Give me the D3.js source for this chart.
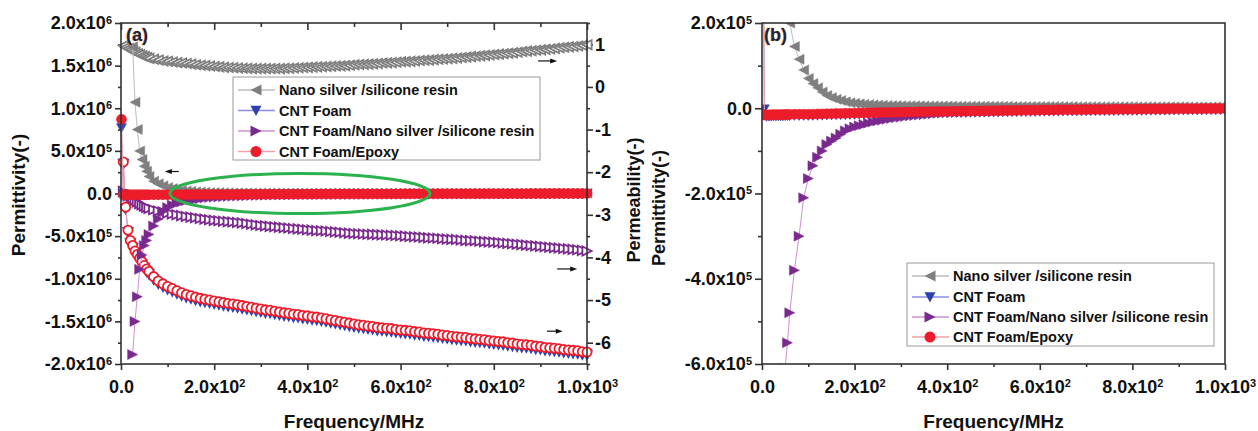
<!DOCTYPE html>
<html>
<head>
<meta charset="utf-8">
<script src="https://cdn.jsdelivr.net/npm/d3@7"></script>
<style>
  html, body { margin: 0; padding: 0; background: #fff; }
  svg text { font-family: Arial, "Liberation Sans", sans-serif; font-weight: bold; fill: #111; }
  .tick text { font-size: 18px; }
  .tick line { stroke-width: 1.6px; }
</style>
</head>
<body>
<svg id="chart" width="1258" height="431"></svg>
<script>
// frequency grid (MHz), shared by every series
const freq = [1, 5, 10, 15, 20, 25, 30, 35, 40, 45, 50, 55, 60,
  70, 80, 90, 100, 110, 120, 130, 140, 150, 160,
  170, 180, 190, 200, 210, 220, 230, 240, 250, 260,
  270, 280, 290, 300, 310, 320, 330, 340, 350, 360,
  370, 380, 390, 400, 410, 420, 430, 440, 450, 460,
  470, 480, 490, 500, 510, 520, 530, 540, 550, 560,
  570, 580, 590, 600, 610, 620, 630, 640, 650, 660,
  670, 680, 690, 700, 710, 720, 730, 740, 750, 760,
  770, 780, 790, 800, 810, 820, 830, 840, 850, 860,
  870, 880, 890, 900, 910, 920, 930, 940, 950, 960,
  970, 980, 990, 1000];

const seriesNames = ["Nano silver /silicone resin", "CNT Foam",
  "CNT Foam/Nano silver /silicone resin", "CNT Foam/Epoxy"];

// permittivity (left axis of a, axis of b)
const epsNano = [null, null, null, null, null, 1.72e6, 1.07e6, 7.5e5, 5.0e5, 4.0e5, 3.2e5, 2.6e5, 2.0e5,
  1.45e5, 1.15e5, 9.0e4, 7.0e4, 5.8e4, 4.8e4, 3.8e4, 3.0e4, 2.5e4, 2.1e4,
  1.8e4, 1.5e4, 1.3e4, 1.15e4, 1.05e4, 9.5e3, 8.7e3, 8e3, 7.5e3, 7e3,
  6.7e3, 6.5e3, 6.2e3, 6e3, 5.9e3, 5.8e3, 5.7e3, 5.6e3, 5.5e3, 5.4e3,
  5.3e3, 5.2e3, 5.1e3, 5e3, 5e3, 4.9e3, 4.9e3, 4.8e3, 4.8e3, 4.7e3,
  4.7e3, 4.6e3, 4.6e3, 4.5e3, 4.5e3, 4.4e3, 4.4e3, 4.3e3, 4.3e3, 4.2e3,
  4.2e3, 4.1e3, 4.1e3, 4e3, 4e3, 4e3, 4e3, 3.9e3, 3.9e3, 3.9e3,
  3.9e3, 3.8e3, 3.8e3, 3.8e3, 3.8e3, 3.7e3, 3.7e3, 3.7e3, 3.7e3, 3.6e3,
  3.6e3, 3.6e3, 3.6e3, 3.5e3, 3.5e3, 3.5e3, 3.5e3, 3.4e3, 3.4e3, 3.4e3,
  3.4e3, 3.3e3, 3.3e3, 3.3e3, 3.3e3, 3.2e3, 3.2e3, 3.2e3, 3.2e3, 3.1e3,
  3.1e3, 3.1e3, 3e3, 3e3];
const epsCNT = [7.7e5, -2e3, -1.9e4, -1.85e4, -1.85e4, -1.8e4, -1.8e4, -1.8e4, -1.8e4, -1.8e4, -1.75e4, -1.75e4, -1.75e4,
  -1.7e4, -1.7e4, -1.7e4, -1.7e4, -1.68e4, -1.65e4, -1.62e4, -1.6e4, -1.58e4, -1.55e4,
  -1.52e4, -1.5e4, -1.48e4, -1.45e4, -1.42e4, -1.4e4, -1.38e4, -1.35e4, -1.32e4, -1.3e4,
  -1.28e4, -1.26e4, -1.24e4, -1.22e4, -1.2e4, -1.18e4, -1.16e4, -1.14e4, -1.12e4, -1.1e4,
  -1.08e4, -1.07e4, -1.05e4, -1.04e4, -1.02e4, -1e4, -9.8e3, -9.7e3, -9.5e3, -9.4e3,
  -9.2e3, -9.1e3, -8.9e3, -8.8e3, -8.6e3, -8.5e3, -8.3e3, -8.2e3, -8e3, -7.9e3,
  -7.7e3, -7.6e3, -7.4e3, -7.3e3, -7.1e3, -7e3, -6.9e3, -6.8e3, -6.7e3, -6.6e3,
  -6.5e3, -6.4e3, -6.3e3, -6.2e3, -6.1e3, -6e3, -5.9e3, -5.8e3, -5.7e3, -5.6e3,
  -5.5e3, -5.4e3, -5.3e3, -5.2e3, -5.1e3, -5e3, -4.9e3, -4.8e3, -4.7e3, -4.6e3,
  -4.5e3, -4.4e3, -4.3e3, -4.2e3, -4.1e3, -4e3, -3.95e3, -3.9e3, -3.85e3, -3.8e3,
  -3.75e3, -3.7e3, -3.65e3, -3.6e3];
const epsCFAg = [null, null, null, null, null, -1.89e6, -1.5e6, -1.21e6, -8.9e5, -7.2e5, -6.1e5, -5.5e5, -4.8e5,
  -3.8e5, -3.0e5, -2.1e5, -1.65e5, -1.35e5, -1.15e5, -1.0e5, -8.5e4, -7.7e4, -7.0e4,
  -6.1e4, -5.3e4, -4.8e4, -4.4e4, -4.1e4, -3.8e4, -3.5e4, -3.2e4, -3.0e4, -2.8e4,
  -2.6e4, -2.4e4, -2.25e4, -2.1e4, -1.95e4, -1.8e4, -1.7e4, -1.6e4, -1.5e4, -1.4e4,
  -1.3e4, -1.2e4, -1.1e4, -1.0e4, -9.8e3, -9.5e3, -9.2e3, -9e3, -8.8e3, -8.5e3,
  -8.2e3, -8e3, -7.8e3, -7.5e3, -7.2e3, -7e3, -6.8e3, -6.5e3, -6.2e3, -6e3,
  -5.8e3, -5.5e3, -5.2e3, -5e3, -4.8e3, -4.6e3, -4.4e3, -4.2e3, -4e3, -3.8e3,
  -3.6e3, -3.5e3, -3.4e3, -3.2e3, -3.1e3, -3e3, -2.95e3, -2.9e3, -2.85e3, -2.8e3,
  -2.75e3, -2.7e3, -2.65e3, -2.6e3, -2.55e3, -2.5e3, -2.45e3, -2.4e3, -2.35e3, -2.3e3,
  -2.25e3, -2.2e3, -2.15e3, -2.1e3, -2.05e3, -2e3, -2e3, -2e3, -2e3, -2e3,
  -2e3, -2e3, -2e3, -2e3];
const epsEpoxy = [8.7e5, -1.6e4, -1.6e4, -1.55e4, -1.55e4, -1.5e4, -1.5e4, -1.5e4, -1.5e4, -1.5e4, -1.45e4, -1.45e4, -1.45e4,
  -1.4e4, -1.4e4, -1.4e4, -1.4e4, -1.38e4, -1.35e4, -1.32e4, -1.3e4, -1.28e4, -1.25e4,
  -1.22e4, -1.2e4, -1.18e4, -1.15e4, -1.12e4, -1.1e4, -1.08e4, -1.05e4, -1.02e4, -1.0e4,
  -9.8e3, -9.6e3, -9.4e3, -9.2e3, -9e3, -8.8e3, -8.6e3, -8.4e3, -8.2e3, -8e3,
  -7.8e3, -7.7e3, -7.5e3, -7.4e3, -7.2e3, -7e3, -6.8e3, -6.7e3, -6.5e3, -6.4e3,
  -6.2e3, -6.1e3, -5.9e3, -5.8e3, -5.6e3, -5.5e3, -5.3e3, -5.2e3, -5e3, -4.9e3,
  -4.7e3, -4.6e3, -4.4e3, -4.3e3, -4.1e3, -4e3, -3.9e3, -3.8e3, -3.7e3, -3.6e3,
  -3.5e3, -3.4e3, -3.3e3, -3.2e3, -3.1e3, -3e3, -2.9e3, -2.8e3, -2.7e3, -2.6e3,
  -2.5e3, -2.4e3, -2.3e3, -2.2e3, -2.1e3, -2e3, -1.9e3, -1.8e3, -1.7e3, -1.6e3,
  -1.5e3, -1.4e3, -1.3e3, -1.2e3, -1.1e3, -1e3, -950, -900, -850, -800,
  -750, -700, -650, -600];

// permeability (right axis of panel a)
const muNano = [null, 0.97, 0.93, 0.9, 0.87, 0.84, 0.81, 0.78, 0.76, 0.73, 0.71, 0.69, 0.67,
  0.65, 0.63, 0.61, 0.6, 0.585, 0.57, 0.56, 0.55, 0.535, 0.52,
  0.51, 0.5, 0.49, 0.48, 0.47, 0.46, 0.455, 0.45, 0.445, 0.44,
  0.435, 0.43, 0.43, 0.43, 0.43, 0.43, 0.43, 0.43, 0.435, 0.44,
  0.445, 0.45, 0.455, 0.46, 0.465, 0.47, 0.475, 0.48, 0.485, 0.49,
  0.495, 0.5, 0.51, 0.52, 0.525, 0.53, 0.535, 0.54, 0.55, 0.56,
  0.565, 0.57, 0.58, 0.59, 0.595, 0.6, 0.61, 0.62, 0.625, 0.63,
  0.64, 0.65, 0.655, 0.66, 0.67, 0.68, 0.69, 0.7, 0.71, 0.72,
  0.73, 0.74, 0.75, 0.76, 0.77, 0.78, 0.79, 0.8, 0.815, 0.83,
  0.84, 0.85, 0.86, 0.87, 0.88, 0.89, 0.905, 0.92, 0.93, 0.94,
  0.95, 0.96, 0.975, 0.99];
const muCNT = [null, -1.8, -2.86, -3.4, -3.66, -3.78, -3.91, -3.99, -4.08, -4.16, -4.25, -4.33, -4.39,
  -4.51, -4.61, -4.68, -4.74, -4.79, -4.84, -4.89, -4.93, -4.96, -4.99,
  -5.02, -5.04, -5.06, -5.08, -5.1, -5.12, -5.14, -5.15, -5.17, -5.19,
  -5.21, -5.23, -5.25, -5.27, -5.29, -5.3, -5.32, -5.34, -5.36, -5.37,
  -5.39, -5.4, -5.42, -5.43, -5.45, -5.46, -5.48, -5.5, -5.52, -5.54,
  -5.56, -5.58, -5.6, -5.62, -5.64, -5.65, -5.67, -5.68, -5.7, -5.71,
  -5.72, -5.73, -5.75, -5.76, -5.77, -5.78, -5.8, -5.81, -5.83, -5.84,
  -5.85, -5.86, -5.88, -5.89, -5.91, -5.92, -5.93, -5.94, -5.96, -5.97,
  -5.98, -5.99, -6.01, -6.02, -6.03, -6.04, -6.06, -6.07, -6.09, -6.1,
  -6.11, -6.12, -6.14, -6.15, -6.17, -6.18, -6.19, -6.2, -6.22, -6.23,
  -6.24, -6.25, -6.27, -6.28];
const muCFAg = [null, -2.45, -2.5, -2.55, -2.58, -2.62, -2.66, -2.7, -2.74, -2.77, -2.8, -2.83, -2.85,
  -2.88, -2.91, -2.94, -2.96, -2.98, -3.0, -3.02, -3.04, -3.055, -3.07,
  -3.085, -3.1, -3.115, -3.13, -3.14, -3.15, -3.16, -3.17, -3.18, -3.19,
  -3.205, -3.22, -3.235, -3.25, -3.26, -3.27, -3.28, -3.29, -3.3, -3.31,
  -3.32, -3.33, -3.34, -3.35, -3.36, -3.37, -3.375, -3.38, -3.39, -3.4,
  -3.41, -3.42, -3.43, -3.44, -3.445, -3.45, -3.455, -3.46, -3.465, -3.47,
  -3.475, -3.48, -3.485, -3.49, -3.5, -3.51, -3.515, -3.52, -3.53, -3.54,
  -3.545, -3.55, -3.56, -3.57, -3.575, -3.58, -3.59, -3.6, -3.605, -3.61,
  -3.62, -3.63, -3.635, -3.64, -3.65, -3.66, -3.67, -3.68, -3.69, -3.7,
  -3.71, -3.72, -3.73, -3.74, -3.75, -3.76, -3.77, -3.78, -3.79, -3.8,
  -3.81, -3.82, -3.835, -3.85];
const muEpoxy = [null, -1.76, -2.82, -3.36, -3.6, -3.72, -3.85, -3.93, -4.02, -4.1, -4.19, -4.27, -4.33,
  -4.45, -4.55, -4.62, -4.68, -4.73, -4.78, -4.83, -4.87, -4.9, -4.93,
  -4.96, -4.98, -5.0, -5.02, -5.04, -5.06, -5.08, -5.09, -5.11, -5.13,
  -5.15, -5.17, -5.19, -5.21, -5.23, -5.24, -5.26, -5.28, -5.3, -5.31,
  -5.33, -5.34, -5.36, -5.37, -5.39, -5.4, -5.42, -5.44, -5.46, -5.48,
  -5.5, -5.52, -5.54, -5.56, -5.58, -5.59, -5.61, -5.62, -5.64, -5.65,
  -5.66, -5.67, -5.69, -5.7, -5.71, -5.72, -5.74, -5.75, -5.77, -5.78,
  -5.79, -5.8, -5.82, -5.83, -5.85, -5.86, -5.87, -5.88, -5.9, -5.91,
  -5.92, -5.93, -5.95, -5.96, -5.97, -5.98, -6.0, -6.01, -6.03, -6.04,
  -6.05, -6.06, -6.08, -6.09, -6.11, -6.12, -6.13, -6.14, -6.16, -6.17,
  -6.18, -6.19, -6.21, -6.22];

// tick values
const xMajor = [0, 200, 400, 600, 800, 1000];
const xMinor = [100, 300, 500, 700, 900];
const epsMajorA = [-2e6, -1.5e6, -1e6, -5e5, 0, 5e5, 1e6, 1.5e6, 2e6];
const epsMinorA = [-1.75e6, -1.25e6, -7.5e5, -2.5e5, 2.5e5, 7.5e5, 1.25e6, 1.75e6];
const muMajor = [-6, -5, -4, -3, -2, -1, 0, 1];
const muMinor = [-6.5, -5.5, -4.5, -3.5, -2.5, -1.5, -0.5, 0.5, 1.5];
const epsMajorB = [-6e5, -4e5, -2e5, 0, 2e5];
const epsMinorB = [-5e5, -3e5, -1e5, 1e5];

// styles
const colors = ["#7f7f7f", "#2e3fb0", "#7a2a8e", "#ec1c2b"];
const lineColors = ["#bdbdbd", "#8c8ce6", "#cf8fd0", "#f5a0a6"];
const shapes = [
  s => `M${-s},0L${s},${-s}L${s},${s}Z`,
  s => `M${-s},${-s * 0.85}L${s},${-s * 0.85}L0,${s}Z`,
  s => `M${s},0L${-s},${-s}L${-s},${s}Z`,
  s => d3.symbol(d3.symbolCircle, Math.PI * s * s)()
];

const svg = d3.select("#chart");
const A = {left: 121, right: 587, top: 23, bottom: 364};
const B = {left: 762, right: 1225, top: 23, bottom: 364};

const xA = d3.scaleLinear().domain([0, 1000]).range([A.left, A.right]);
const yA = d3.scaleLinear().domain([-2e6, 2e6]).range([A.bottom, A.top]);
const yMu = d3.scaleLinear().domain([-6.5, 1.5]).range([A.bottom, A.top]);
const xB = d3.scaleLinear().domain([0, 1000]).range([B.left, B.right]);
const yB = d3.scaleLinear().domain([-6e5, 2e5]).range([B.bottom, B.top]);

// "2.0x10" + superscript exponent
function sciText(text) {
  text.each(function(d) {
    const t = d3.select(this).text(null);
    if (d === 0) { t.text("0.0"); return; }
    const e = Math.floor(Math.log10(Math.abs(d)) + 1e-9);
    t.append("tspan").text((d / Math.pow(10, e)).toFixed(1) + "x10");
    t.append("tspan").attr("dy", "-0.5em").attr("font-size", "11px").text(e);
  });
}

function axis(g, gen, major, minor, size, minorSize, pad, fmt) {
  const gm = g.append("g").attr("color", "#333")
    .call(gen.tickValues(minor).tickSize(minorSize).tickSizeOuter(0).tickFormat(""));
  gm.select(".domain").remove();
  const gM = g.append("g").attr("color", "#333");
  gen.tickValues(major).tickSize(size).tickPadding(pad).tickFormat(fmt ? null : "");
  gM.call(gen);
  gM.select(".domain").remove();
  if (fmt) gM.selectAll(".tick text").call(fmt);
  return gM;
}

function drawSeries(g, xs, ys, vals, i, hollow) {
  const pts = freq.map((f, k) => [f, vals[k]]).filter(p => p[1] !== null);
  g.append("path").datum(pts)
    .attr("fill", "none")
    .attr("stroke", lineColors[i])
    .attr("stroke-width", 1)
    .attr("d", d3.line().x(p => xs(p[0])).y(p => ys(p[1])));
  g.append("g").selectAll("path").data(pts).join("path")
    .attr("transform", p => `translate(${xs(p[0])},${ys(p[1])})`)
    .attr("d", shapes[i](hollow ? 4.6 : 5))
    .attr("fill", hollow ? "#fff" : colors[i])
    .attr("stroke", colors[i])
    .attr("stroke-width", hollow ? 1.8 : 0.5);
}

function drawLegend(g, x0, y0, rows) {
  g.append("rect").attr("x", x0).attr("y", y0).attr("width", 307).attr("height", 83)
    .attr("fill", "#fff").attr("stroke", "#9a9a9a").attr("stroke-width", 1);
  seriesNames.forEach((name, i) => {
    const y = y0 + rows[i];
    g.append("line").attr("x1", x0 + 5).attr("x2", x0 + 42).attr("y1", y).attr("y2", y)
      .attr("stroke", lineColors[i]).attr("stroke-width", 1.5);
    g.append("path").attr("transform", `translate(${x0 + 23},${y})`)
      .attr("d", shapes[i](5.5)).attr("fill", colors[i]);
    g.append("text").attr("x", x0 + 46).attr("y", y).attr("dy", "0.36em")
      .attr("font-size", "14.5px").text(name);
  });
}

function arrow(g, x1, x2, y) {
  const dir = x2 > x1 ? 1 : -1;
  g.append("line").attr("x1", x1).attr("x2", x2 - dir * 4).attr("y1", y).attr("y2", y)
    .attr("stroke", "#111").attr("stroke-width", 1.2);
  g.append("path").attr("d", `M${x2},${y}L${x2 - dir * 7},${y - 2.5}L${x2 - dir * 7},${y + 2.5}Z`)
    .attr("fill", "#111");
}

// ---------- panel (a) ----------
const ga = svg.append("g");
axis(ga.append("g").attr("transform", `translate(${A.left},0)`), d3.axisLeft(yA), epsMajorA, epsMinorA, 6, 3, 3, sciText);
axis(ga.append("g").attr("transform", `translate(0,${A.bottom})`), d3.axisBottom(xA), xMajor, xMinor, 6, 3, 10, sciText);
axis(ga.append("g").attr("transform", `translate(0,${A.top})`), d3.axisTop(xA), xMajor, xMinor, -7, -4, 3, null);
axis(ga.append("g").attr("transform", `translate(${A.right},0)`), d3.axisRight(yMu), muMajor, muMinor, 6, 3, 2,
  t => t.text(d => String(d)));

const seriesA = ga.append("g");
[muNano, muCNT, muCFAg, muEpoxy].forEach((v, i) => drawSeries(seriesA, xA, yMu, v, i, true));
[epsNano, epsCNT, epsCFAg, epsEpoxy].forEach((v, i) => drawSeries(seriesA, xA, yA, v, i, false));

ga.append("rect").attr("x", A.left).attr("y", A.top)
  .attr("width", A.right - A.left).attr("height", A.bottom - A.top)
  .attr("fill", "none").attr("stroke", "#333").attr("stroke-width", 1.6);

// green ellipse around the near-zero permittivity band
ga.append("ellipse")
  .attr("cx", xA(384)).attr("cy", yA(0))
  .attr("rx", xA(279) - xA(0)).attr("ry", yA(0) - yA(2.35e5))
  .attr("fill", "none").attr("stroke", "#2bb24c").attr("stroke-width", 3);

// axis pointers
arrow(ga, xA(124), xA(94), yA(2.58e5));
arrow(ga, xA(895), xA(936), yMu(0.61));
arrow(ga, xA(936), xA(979), yMu(-4.27));
arrow(ga, xA(914), xA(948), yMu(-5.73));

drawLegend(ga, 233, 77, [13, 33.5, 54, 74.5]);

ga.append("text").attr("x", A.left + 5).attr("y", 41).attr("font-size", "18px")
  .style("fill", "#1c2346").attr("stroke", "#f2a23a").attr("stroke-width", 0.7)
  .attr("paint-order", "stroke").text("(a)");

ga.append("text").attr("transform", `translate(25,195) rotate(-90)`)
  .attr("text-anchor", "middle").attr("font-size", "19px").text("Permittivity(-)");
ga.append("text").attr("transform", `translate(640,200) rotate(-90)`)
  .attr("text-anchor", "middle").attr("font-size", "18px").text("Permeability(-)");
ga.append("text").attr("x", (A.left + A.right) / 2).attr("y", 428)
  .attr("text-anchor", "middle").attr("font-size", "19px").text("Frequency/MHz");

// ---------- panel (b) ----------
const gb = svg.append("g");
axis(gb.append("g").attr("transform", `translate(${B.left},0)`), d3.axisLeft(yB), epsMajorB, epsMinorB, 7, 4, 3, sciText);
axis(gb.append("g").attr("transform", `translate(0,${B.bottom})`), d3.axisBottom(xB), xMajor, xMinor, 6, 3, 10, sciText);

svg.append("defs").append("clipPath").attr("id", "clipB")
  .append("rect").attr("x", B.left).attr("y", B.top)
  .attr("width", B.right - B.left).attr("height", B.bottom - B.top);

const seriesB = gb.append("g").attr("clip-path", "url(#clipB)");
[epsNano, epsCNT, epsCFAg, epsEpoxy].forEach((v, i) => drawSeries(seriesB, xB, yB, v, i, false));

gb.append("rect").attr("x", B.left).attr("y", B.top)
  .attr("width", B.right - B.left).attr("height", B.bottom - B.top)
  .attr("fill", "none").attr("stroke", "#333").attr("stroke-width", 1.6);

drawLegend(gb, 907, 263, [13, 34, 54, 74]);

gb.append("text").attr("x", B.left + 2).attr("y", 41).attr("font-size", "18px")
  .style("fill", "#1c2346").attr("stroke", "#f2a23a").attr("stroke-width", 0.7)
  .attr("paint-order", "stroke").text("(b)");

gb.append("text").attr("transform", `translate(665,208) rotate(-90)`)
  .attr("text-anchor", "middle").attr("font-size", "18px").text("Permittivity(-)");
gb.append("text").attr("x", (B.left + B.right) / 2).attr("y", 428)
  .attr("text-anchor", "middle").attr("font-size", "19px").text("Frequency/MHz");
</script>
</body>
</html>
